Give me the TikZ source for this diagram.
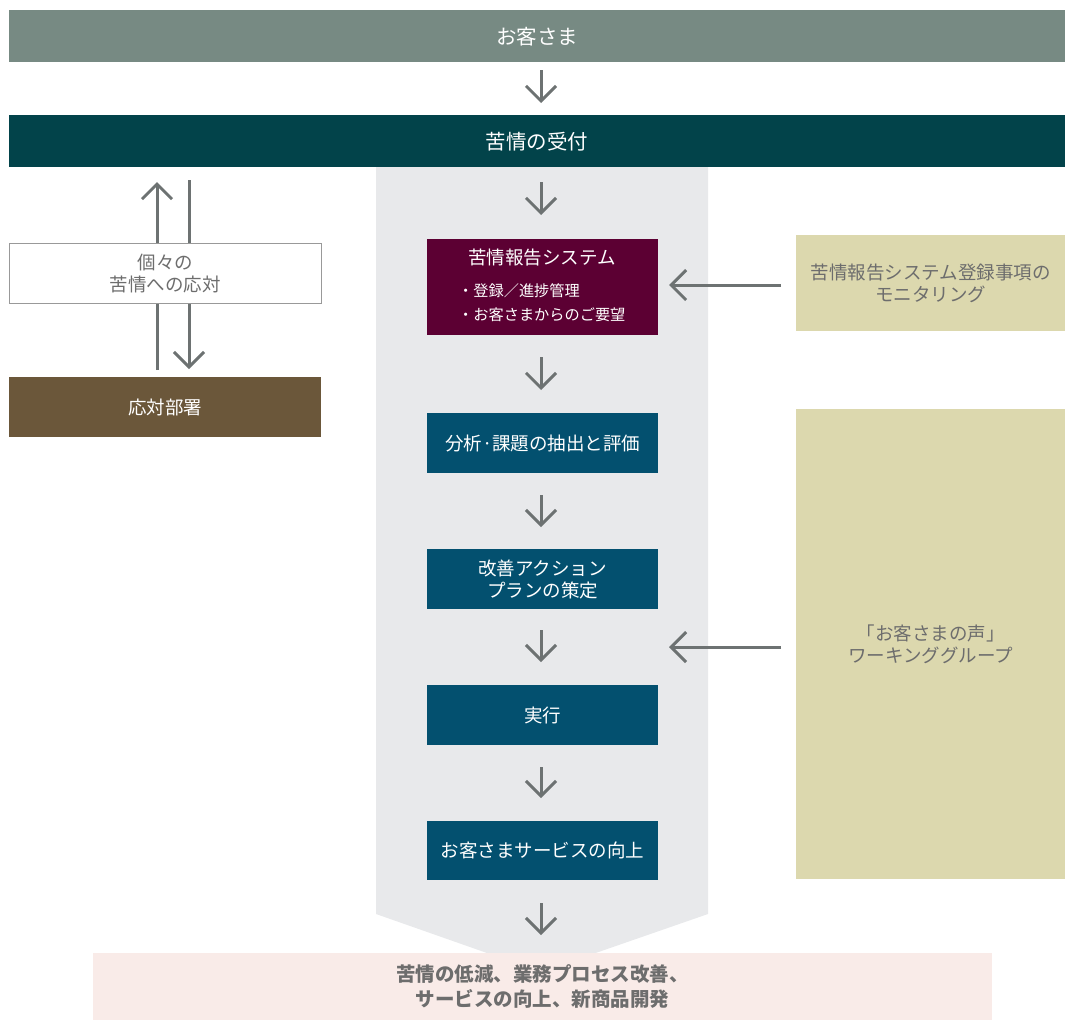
\documentclass[tikz,border=0pt]{standalone}
\usepackage{fontspec}
\setmainfont{Noto Sans CJK JP}
\usetikzlibrary{arrows.meta}
\definecolor{cTop}{HTML}{778A83}
\definecolor{cRecv}{HTML}{02434A}
\definecolor{cBand}{HTML}{E8E9EB}
\definecolor{cSys}{HTML}{5C0033}
\definecolor{cBlue}{HTML}{03506F}
\definecolor{cKhaki}{HTML}{DCD8AE}
\definecolor{cBrown}{HTML}{6B573A}
\definecolor{cPink}{HTML}{F9EBE8}
\definecolor{cArrow}{HTML}{6D7272}
\definecolor{cText}{HTML}{6D6D6D}
\begin{document}
\begin{tikzpicture}[x=1pt,y=-1pt,
  box/.style={draw=none,anchor=north west,inner sep=0pt,align=center,font=\fontsize{18.5}{22}\selectfont},
  bar/.style={box,font=\fontsize{20.5}{24}\selectfont},
  flow/.style={draw=cArrow,line width=3pt,-{Straight Barb[length=15pt,width=30pt,line width=3pt]}}]
\useasboundingbox (0,0) rectangle (1065,1020);
% band
\fill[cBand] (376,167) -- (708,167) -- (708,914) -- (541,972) -- (376,914) -- cycle;
% top bars
\node[bar,fill=cTop,text=white,minimum width=1056pt,minimum height=52pt] (cust) at (9,10) {お客さま};
\node[bar,fill=cRecv,text=white,minimum width=1056pt,minimum height=52pt] (recv) at (9,115) {苦情の受付};
% central boxes
\node[box,fill=cSys,text=white,minimum width=231pt,minimum height=96pt] (sys) at (427,239) {};
\node[text=white,font=\fontsize{18.5}{22}\selectfont,anchor=center] (systitle) at (542,258) {苦情報告システム};
\node[text=white,font=\fontsize{15.2}{24}\selectfont,align=left,anchor=north west,inner sep=0pt] (sysitems) at (458,283) {・登録／進捗管理\\・お客さまからのご要望};
\node[box,fill=cBlue,text=white,minimum width=231pt,minimum height=60pt] (ana) at (427,413) {分析·課題の抽出と評価};
\node[box,fill=cBlue,text=white,minimum width=231pt,minimum height=60pt] (plan) at (427,549) {改善アクション\\プランの策定};
\node[box,fill=cBlue,text=white,minimum width=231pt,minimum height=60pt] (exec) at (427,685) {実行};
\node[box,fill=cBlue,text=white,minimum width=231pt,minimum height=59pt] (svc) at (427,821) {お客さまサービスの向上};
% right boxes
\node[box,fill=cKhaki,text=cText,minimum width=269pt,minimum height=96pt] (mon) at (796,235) {苦情報告システム登録事項の\\モニタリング};
\node[box,fill=cKhaki,text=cText,minimum width=269pt,minimum height=470pt] (wg) at (796,409) {「お客さまの声」\\ワーキンググループ};
% left boxes
\node[box,fill=cBrown,text=white,minimum width=312pt,minimum height=60pt] (dept) at (9,377) {応対部署};
% bottom
\node[box,fill=cPink,text=cText,minimum width=899pt,minimum height=67pt,font=\bfseries\fontsize{19.5}{25}\selectfont] (result) at (93,953) {苦情の低減、業務プロセス改善、\\サービスの向上、新商品開発};
% coordinates
\coordinate (a1s) at (541,70); \coordinate (a1e) at (541,103);
\coordinate (a2s) at (541,182); \coordinate (a2e) at (541,215);
\coordinate (a3s) at (541,357); \coordinate (a3e) at (541,390);
\coordinate (a4s) at (541,495); \coordinate (a4e) at (541,527);
\coordinate (a5s) at (541,630); \coordinate (a5e) at (541,662);
\coordinate (a6s) at (541,767); \coordinate (a6e) at (541,798);
\coordinate (a7s) at (541,903); \coordinate (a7e) at (541,935);
\coordinate (h1s) at (781,285); \coordinate (h1e) at (669,285);
\coordinate (h2s) at (781,647); \coordinate (h2e) at (669,647);
\coordinate (upS) at (157,370); \coordinate (upE) at (157,182);
\coordinate (dnS) at (189,180); \coordinate (dnE) at (189,369);
\draw[flow] (a1s) -- (a1e);
\draw[flow] (a2s) -- (a2e);
\draw[flow] (a3s) -- (a3e);
\draw[flow] (a4s) -- (a4e);
\draw[flow] (a5s) -- (a5e);
\draw[flow] (a6s) -- (a6e);
\draw[flow] (a7s) -- (a7e);
\draw[flow] (h1s) -- (h1e);
\draw[flow] (h2s) -- (h2e);
% left vertical arrows, interrupted by the white box
\draw[flow] (upS) -- (upE);
\draw[flow] (dnS) -- (dnE);
\node[box,draw=cText!70,line width=0.8pt,fill=white,text=cText,minimum width=312pt,minimum height=60pt] (indiv) at (9,243) {個々の\\苦情への応対};
\end{tikzpicture}
\end{document}
